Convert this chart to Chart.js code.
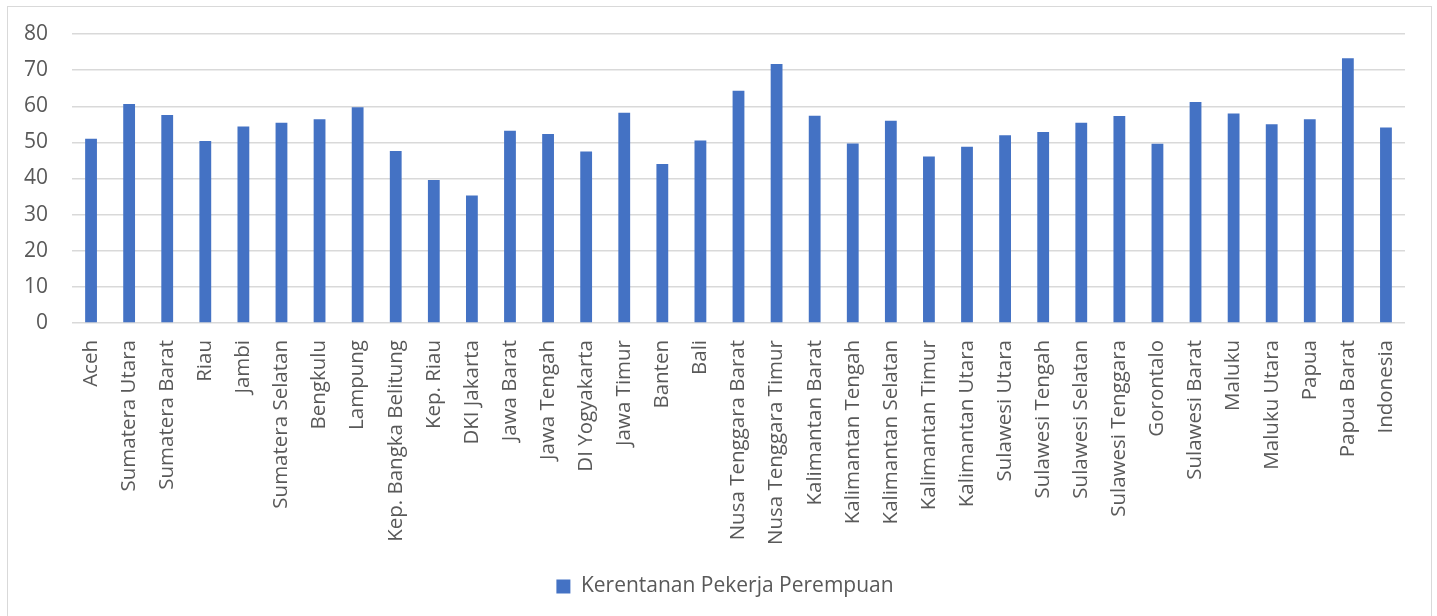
<!DOCTYPE html>
<html>
<head>
<meta charset="utf-8">
<script src="https://cdn.jsdelivr.net/npm/chart.js@4"></script>
<style>
  html, body { margin: 0; padding: 0; background: #fff; overflow: hidden; }
  #box {
    position: absolute; left: 7px; top: 6px; width: 1425px; height: 640px;
    border: 1px solid #d9d9d9; box-sizing: border-box;
  }
  #wrap { position: absolute; left: 1px; top: 0; width: 1423px; height: 610px; }
</style>
</head>
<body>
<div id="box"><div id="wrap"><canvas id="chart"></canvas></div></div>
<script>
// data
const provinces = [
  "Aceh", "Sumatera Utara", "Sumatera Barat", "Riau", "Jambi", "Sumatera Selatan",
  "Bengkulu", "Lampung", "Kep. Bangka Belitung", "Kep. Riau", "DKI Jakarta",
  "Jawa Barat", "Jawa Tengah", "DI Yogyakarta", "Jawa Timur", "Banten", "Bali",
  "Nusa Tenggara Barat", "Nusa Tenggara Timur", "Kalimantan Barat", "Kalimantan Tengah",
  "Kalimantan Selatan", "Kalimantan Timur", "Kalimantan Utara", "Sulawesi Utara",
  "Sulawesi Tengah", "Sulawesi Selatan", "Sulawesi Tenggara", "Gorontalo",
  "Sulawesi Barat", "Maluku", "Maluku Utara", "Papua", "Papua Barat", "Indonesia"
];
const kerentanan = [
  51.0, 60.6, 57.6, 50.4, 54.4, 55.4,
  56.4, 59.7, 47.6, 39.6, 35.3,
  53.2, 52.3, 47.5, 58.2, 44.0, 50.5,
  64.3, 71.7, 57.4, 49.7,
  56.0, 46.1, 48.8, 52.0,
  52.9, 55.4, 57.3, 49.6,
  61.2, 58.0, 55.0, 56.4, 73.3, 54.1
];
const seriesName = "Kerentanan Pekerja Perempuan";
const yTicks = [0, 10, 20, 30, 40, 50, 60, 70, 80];

const textColor = '#595959';
const fontFam = '"Open Sans", "DejaVu Sans", sans-serif';

// nudge the legend a little to the right, like in the picture
const legendShift = {
  id: 'legendShift',
  afterLayout(chart) {
    chart.legend.left += 14;
    chart.legend.right += 14;
  }
};

new Chart(document.getElementById('chart'), {
  type: 'bar',
  data: {
    labels: provinces,
    datasets: [{
      label: seriesName,
      data: kerentanan,
      backgroundColor: '#4472c4',
      barPercentage: 0.31,
      categoryPercentage: 1.0
    }]
  },
  options: {
    responsive: true,
    maintainAspectRatio: false,
    animation: false,
    layout: { padding: { top: 27, right: 27, left: 8, bottom: 10 } },
    plugins: {
      tooltip: { enabled: false },
      legend: {
        position: 'bottom',
        labels: {
          color: textColor,
          font: { family: fontFam, size: 21 },
          boxWidth: 14, boxHeight: 14,
          padding: 10
        }
      }
    },
    scales: {
      x: {
        grid: { display: false, drawTicks: false },
        border: { display: false },
        ticks: {
          color: textColor,
          font: { family: fontFam, size: 20.5 },
          minRotation: 90, maxRotation: 90,
          autoSkip: false,
          padding: 17
        },
        afterFit: s => { s.height = 243; }
      },
      y: {
        min: 0, max: 80,
        afterBuildTicks: s => { s.ticks = yTicks.map(v => ({ value: v })); },
        grid: { color: '#d9d9d9', lineWidth: 1.5, drawTicks: false },
        border: { display: false },
        ticks: {
          color: textColor,
          font: { family: fontFam, size: 21 },
          padding: 24
        },
        afterFit: s => {
          s.width = 55;
          s.paddingTop = 12;
          s.paddingBottom = 12;
        }
      }
    }
  },
  plugins: [legendShift]
});
</script>
</body>
</html>
